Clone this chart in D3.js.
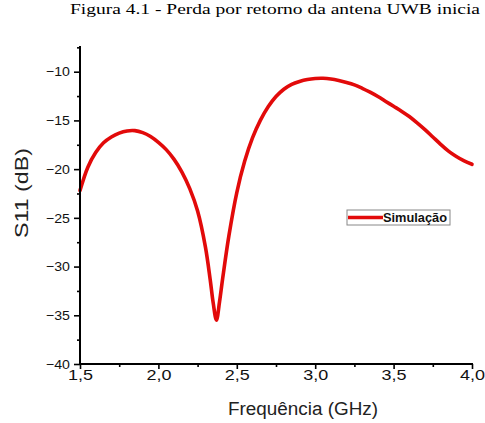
<!DOCTYPE html>
<html>
<head>
<meta charset="utf-8">
<script src="https://cdn.jsdelivr.net/npm/d3@7/dist/d3.min.js"></script>
<style>
  html, body { margin: 0; padding: 0; background: #fff; }
  svg { display: block; }
</style>
</head>
<body>
<svg id="chart" width="485" height="423"></svg>
<script>
// Return loss (S11) of the initial UWB antenna, simulated sweep
const freqGHz = [1.50, 1.55, 1.60, 1.65, 1.70, 1.75, 1.80, 1.85, 1.90, 1.95,
  2.00, 2.05, 2.10, 2.15, 2.20, 2.25, 2.30, 2.33, 2.35, 2.37, 2.39, 2.41,
  2.45, 2.50, 2.55, 2.60, 2.65, 2.70, 2.75, 2.80, 2.85, 2.90, 2.95, 3.00,
  3.05, 3.10, 3.15, 3.20, 3.25, 3.30, 3.35, 3.40, 3.45, 3.50, 3.55, 3.60,
  3.65, 3.70, 3.75, 3.80, 3.85, 3.90, 3.95, 4.00];
const s11dB = [-22.2, -19.8, -18.3, -17.3, -16.7, -16.3, -16.08, -16.05, -16.25, -16.65,
  -17.25, -18.0, -19.0, -20.3, -22.0, -24.3, -28.0, -31.3, -33.8, -35.5, -33.6, -31.2,
  -26.8, -22.4, -19.2, -16.8, -15.0, -13.6, -12.55, -11.8, -11.3, -11.0, -10.8, -10.7,
  -10.68, -10.75, -10.9, -11.1, -11.35, -11.7, -12.1, -12.55, -13.05, -13.55, -14.05, -14.6,
  -15.25, -15.95, -16.7, -17.45, -18.15, -18.7, -19.15, -19.5];

const xTicks = [1.5, 2.0, 2.5, 3.0, 3.5, 4.0];
const xMinorTicks = [1.75, 2.25, 2.75, 3.25, 3.75];
const yTicks = [-40, -35, -30, -25, -20, -15, -10];
const yMinorTicks = [-37.5, -32.5, -27.5, -22.5, -17.5, -12.5, -7.5];

const titleText = "Figura 4.1 - Perda por retorno da antena UWB inicia";
const xTitle = "Frequência (GHz)";
const yTitle = "S11 (dB)";
const seriesName = "Simulação";

const svg = d3.select("#chart");
const plotLeft = 80, plotRight = 472, plotBottom = 364, plotTop = 46;
const sans = "'Liberation Sans', Arial, sans-serif";

const x = d3.scaleLinear().domain([1.5, 4.0]).range([plotLeft, plotRight]);
const y = d3.scaleLinear().domain([-40, -10]).range([plotBottom, 71.7]);

const fmt = d => d3.format(".1f")(d).replace(".", ",");

// caption
svg.append("text")
  .attr("x", 70).attr("y", 14)
  .style("font-family", "'Liberation Serif', 'Times New Roman', serif")
  .style("font-size", "14px")
  .attr("fill", "#000")
  .attr("textLength", 410).attr("lengthAdjust", "spacingAndGlyphs")
  .text(titleText);

// curve
const line = d3.line()
  .x((d, i) => x(freqGHz[i]))
  .y(d => y(d))
  .curve(d3.curveCatmullRom.alpha(0.5));

svg.append("path")
  .datum(s11dB)
  .attr("d", line)
  .attr("fill", "none")
  .attr("stroke", "#e20a0a")
  .attr("stroke-width", 3.6)
  .attr("stroke-linejoin", "round")
  .attr("stroke-linecap", "round");

// x axis
const gx = svg.append("g").attr("transform", `translate(0,${plotBottom})`);
gx.call(d3.axisBottom(x).tickValues(xTicks).tickSize(5).tickPadding(1).tickFormat(fmt));
gx.append("g").call(d3.axisBottom(x).tickValues(xMinorTicks).tickSize(3).tickFormat(""))
  .select(".domain").remove();
gx.selectAll(".domain").attr("stroke", "#000").attr("stroke-width", 2)
  .attr("d", `M${plotLeft - 1},0H${plotRight + 1}`);
gx.selectAll(".tick line").attr("stroke", "#000").attr("stroke-width", 1.6);
gx.selectAll(".tick text")
  .style("font-family", sans)
  .style("font-size", "14px").attr("fill", "#111")
  .attr("textLength", 25).attr("lengthAdjust", "spacingAndGlyphs");

// y axis
const gy = svg.append("g").attr("transform", `translate(${plotLeft},0)`);
gy.call(d3.axisLeft(y).tickValues(yTicks).tickSize(6).tickPadding(4).tickFormat(d3.format("d")));
gy.append("g").call(d3.axisLeft(y).tickValues(yMinorTicks).tickSize(3).tickFormat(""))
  .select(".domain").remove();
gy.selectAll(".domain").attr("stroke", "#000").attr("stroke-width", 2)
  .attr("d", `M0,${plotTop}V${plotBottom + 1}`);
gy.selectAll(".tick line").attr("stroke", "#000").attr("stroke-width", 1.6);
gy.selectAll(".tick text")
  .style("font-family", sans)
  .style("font-size", "13px").attr("fill", "#111")
  .attr("textLength", 24).attr("lengthAdjust", "spacingAndGlyphs");

// axis titles
svg.append("text")
  .attr("x", 303).attr("y", 415)
  .attr("text-anchor", "middle")
  .style("font-family", sans)
  .style("font-size", "18px").attr("fill", "#222")
  .attr("textLength", 150).attr("lengthAdjust", "spacingAndGlyphs")
  .text(xTitle);

svg.append("text")
  .attr("transform", "translate(28,193) rotate(-90)")
  .attr("text-anchor", "middle")
  .style("font-family", sans)
  .style("font-size", "18px").attr("fill", "#222")
  .attr("textLength", 90).attr("lengthAdjust", "spacingAndGlyphs")
  .text(yTitle);

// legend
const lg = svg.append("g").attr("transform", "translate(347,210)");
lg.append("rect").attr("x", 0).attr("y", 0).attr("width", 103).attr("height", 15)
  .attr("fill", "#fff").attr("stroke", "#888").attr("stroke-width", 1);
lg.append("line").attr("x1", 1).attr("x2", 36).attr("y1", 7.5).attr("y2", 7.5)
  .attr("stroke", "#e20a0a").attr("stroke-width", 3.6);
lg.append("text").attr("x", 36).attr("y", 12)
  .style("font-family", sans)
  .style("font-size", "12px").style("font-weight", "bold").attr("fill", "#111")
  .attr("textLength", 64).attr("lengthAdjust", "spacingAndGlyphs")
  .text(seriesName);
</script>
</body>
</html>
